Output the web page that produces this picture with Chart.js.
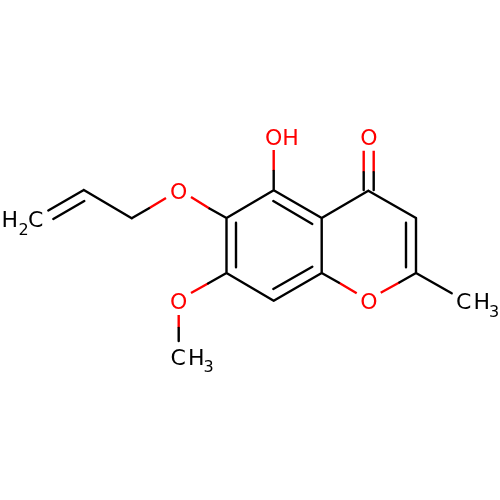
<!DOCTYPE html>
<html>
<head>
<meta charset="utf-8">
<style>html,body{margin:0;padding:0;background:#fff}canvas{display:block}</style>
<script src="https://cdn.jsdelivr.net/npm/chart.js@4"></script>
</head>
<body>
<canvas id="c" width="500" height="500"></canvas>
<script>
// Bond segments: [x1, y1, x2, y2]
const blackBonds = [
  [48.3,210.5,83.8,190],[53.3,219,84.3,201],[83.8,190,131.7,218.3],[131.7,218.3,149,208.3],
  [209.5,208.5,226.5,218],[226.5,218,226.5,273],[236,222.7,236,267.3],[226.5,273,208,283.5],
  [178.7,328,178.7,341],[226.5,218,273.7,190.3],[273.7,190.3,273.7,171],
  [273.7,190.3,321.7,218],[273.3,201,312.3,224],[321.7,218,368.3,190.7],
  [363.7,190,363.7,172.3],[373.7,190,373.7,172.3],[368.3,190.7,416,218],
  [416,218,416,273],[406,222.7,406,267.3],[416,273,451.7,293.3],[416,273,399.3,282.5],
  [339,282.7,321.7,273],[321.7,218,321.7,273],[321.7,273,273.7,300.7],
  [312.3,266.7,273.3,289],[273.7,300.7,226.5,273]
];
const redBonds = [
  [149,208.3,166,198],[191,197,209.5,208.5],[208,283.5,191,293],[178.7,315,178.7,328],
  [273.7,171,273.7,150],[363.7,172.3,363.7,150.7],[373.7,172.3,373.7,150.7],
  [399.3,282.5,380.7,292.7],[356.7,293.3,339,282.7]
];
// Atom label runs
const labelTexts = ["H","2","C","O","O","C","H","3","OH","O","O","C","H","3"];
const labelX     = [1.5,18.5,28,170,170,170.5,188,203.5,265,360.3,360.3,456,473.5,489];
const labelY     = [227,235,227,199,309,364.5,364.5,372,145,145,309,309,309,317];
const labelColors= ["#000","#000","#000","#f00","#f00","#000","#000","#000","#f00","#f00","#f00","#000","#000","#000"];
const labelSizes = [22,16,22,22,22,22,22,16,22,22,22,22,22,16];

function toPoints(segs){
  const pts=[];
  segs.forEach(s=>{pts.push({x:s[0],y:s[1]},{x:s[2],y:s[3]},{x:null,y:null});});
  return pts;
}
const atomLabels={
  id:'atomLabels',
  afterDatasetsDraw(chart){
    const {ctx,scales:{x,y}}=chart;
    ctx.save();
    ctx.textAlign='left';ctx.textBaseline='alphabetic';
    labelTexts.forEach((t,i)=>{
      ctx.font=labelSizes[i]+'px "DejaVu Sans"';
      ctx.fillStyle=labelColors[i];
      ctx.fillText(t,x.getPixelForValue(labelX[i]),y.getPixelForValue(labelY[i]));
    });
    ctx.restore();
  }
};
new Chart(document.getElementById('c'),{
  type:'scatter',
  data:{datasets:[
    {data:toPoints(blackBonds),showLine:true,borderColor:'#000',borderWidth:2.4,pointRadius:0,spanGaps:false,borderCapStyle:'round'},
    {data:toPoints(redBonds),showLine:true,borderColor:'#f00',borderWidth:2.4,pointRadius:0,spanGaps:false,borderCapStyle:'butt'}
  ]},
  options:{
    responsive:false,animation:false,
    layout:{padding:0},
    plugins:{legend:{display:false},tooltip:{enabled:false},title:{display:false}},
    scales:{
      x:{type:'linear',display:false,min:0,max:500},
      y:{type:'linear',display:false,min:0,max:500,reverse:true}
    }
  },
  plugins:[atomLabels]
});
</script>
</body>
</html>
